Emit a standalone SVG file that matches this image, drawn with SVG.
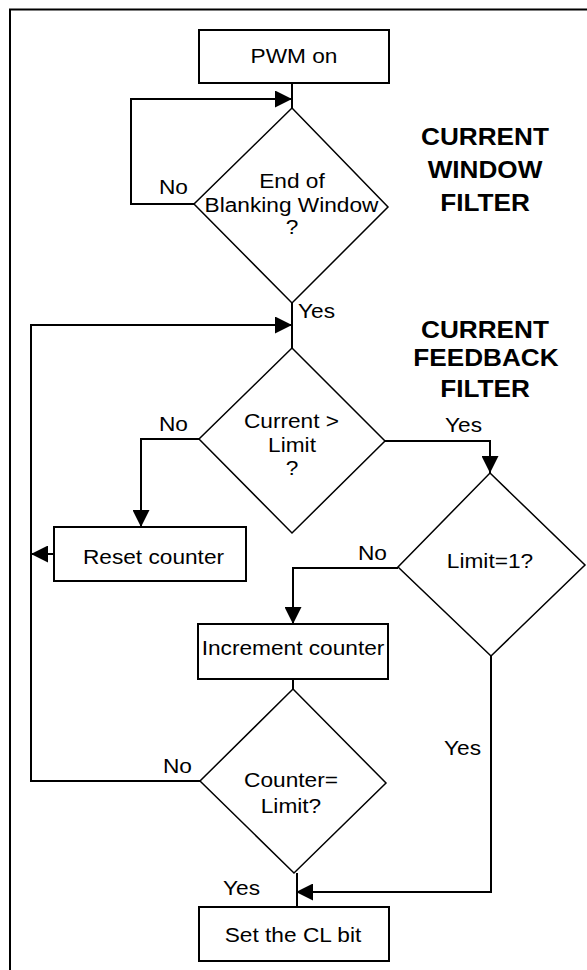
<svg xmlns="http://www.w3.org/2000/svg" width="587" height="970" viewBox="0 0 587 970">
<defs>
<marker id="ah" viewBox="0 0 17 17" refX="17" refY="8.5" markerWidth="17" markerHeight="17" markerUnits="userSpaceOnUse" orient="auto">
<path d="M0,0 L17,8.5 L0,17 z" fill="#000"/>
</marker>
<style>
.box{fill:#fff;stroke:#000;stroke-width:2}
.dia{fill:#fff;stroke:#000;stroke-width:1.5}
.ln{fill:none;stroke:#000;stroke-width:2}
.t{font-family:"Liberation Sans",Arial,sans-serif;font-size:21px;fill:#000}
.c{text-anchor:middle}
.h{font-family:"Liberation Sans",Arial,sans-serif;font-size:24px;font-weight:bold;fill:#000;text-anchor:middle}
</style>
</defs>
<rect width="587" height="970" fill="#fff"/>
<path class="ln" d="M10,970 V9.5 H587"/>
<g id="connectors">
<path class="ln" d="M292,83 V108"/>
<path class="ln" d="M194,204 H131 V99 H292" marker-end="url(#ah)"/>
<path class="ln" d="M292,303 V348"/>
<path class="ln" d="M200,781 H31 V325 H292" marker-end="url(#ah)"/>
<path class="ln" d="M54,554 H31" marker-end="url(#ah)"/>
<path class="ln" d="M199,439 H141 V527" marker-end="url(#ah)"/>
<path class="ln" d="M385,441 H490 V473" marker-end="url(#ah)"/>
<path class="ln" d="M398,568 H293 V624" marker-end="url(#ah)"/>
<path class="ln" d="M293,679 V689"/>
<path class="ln" d="M491,656 V892 H296" marker-end="url(#ah)"/>
<path class="ln" d="M297,873 V908"/>
<text class="t" transform="translate(159,194) scale(1.08,1)">No</text>
<text class="t" transform="translate(298,318) scale(1.08,1)">Yes</text>
<text class="t" transform="translate(159,431) scale(1.08,1)">No</text>
<text class="t" transform="translate(445,432) scale(1.08,1)">Yes</text>
<text class="t" transform="translate(358,560) scale(1.08,1)">No</text>
<text class="t" transform="translate(163,773) scale(1.08,1)">No</text>
<text class="t" transform="translate(444,755) scale(1.08,1)">Yes</text>
<text class="t" transform="translate(223,895) scale(1.08,1)">Yes</text>
</g>
<g id="pwm_on">
<rect class="box" x="199" y="30" width="190" height="53"/>
<text class="t c" transform="translate(294,63) scale(1.08,1)">PWM on</text>
</g>
<g id="end_blanking">
<polygon class="dia" points="292,108 388,207 292,303 194,204"/>
<text class="t c" transform="translate(292,188) scale(1.08,1)">End of</text>
<text class="t c" transform="translate(291.5,212) scale(1.08,1)">Blanking Window</text>
<text class="t c" transform="translate(292,234) scale(1.08,1)">?</text>
</g>
<g id="title_window">
<text class="h" transform="translate(485,145) scale(1.09,1)">CURRENT</text>
<text class="h" transform="translate(485,178) scale(1.09,1)">WINDOW</text>
<text class="h" transform="translate(485,211) scale(1.09,1)">FILTER</text>
</g>
<g id="title_feedback">
<text class="h" transform="translate(485,338) scale(1.09,1)">CURRENT</text>
<text class="h" transform="translate(486,366) scale(1.09,1)">FEEDBACK</text>
<text class="h" transform="translate(485,397) scale(1.09,1)">FILTER</text>
</g>
<g id="current_gt_limit">
<polygon class="dia" points="292,348 385,441 292,533 199,439"/>
<text class="t c" transform="translate(291.5,428) scale(1.08,1)">Current &gt;</text>
<text class="t c" transform="translate(292,452) scale(1.08,1)">Limit</text>
<text class="t c" transform="translate(292,475) scale(1.08,1)">?</text>
</g>
<g id="reset_counter">
<rect class="box" x="54" y="527" width="192" height="54"/>
<text class="t c" transform="translate(153.5,564) scale(1.08,1)">Reset counter</text>
</g>
<g id="limit_eq_1">
<polygon class="dia" points="490,473 585,565 491,656 398,567"/>
<text class="t c" transform="translate(490,568) scale(1.08,1)">Limit=1?</text>
</g>
<g id="increment_counter">
<rect class="box" x="198" y="624" width="190" height="55"/>
<text class="t c" transform="translate(293,655) scale(1.08,1)">Increment counter</text>
</g>
<g id="counter_eq_limit">
<polygon class="dia" points="293,689 386,783 294,873 200,781"/>
<text class="t c" transform="translate(291,787) scale(1.08,1)">Counter=</text>
<text class="t c" transform="translate(291,813) scale(1.08,1)">Limit?</text>
</g>
<g id="set_cl_bit">
<rect class="box" x="199" y="907" width="190" height="54"/>
<text class="t c" transform="translate(293,942) scale(1.08,1)">Set the CL bit</text>
</g>
</svg>
